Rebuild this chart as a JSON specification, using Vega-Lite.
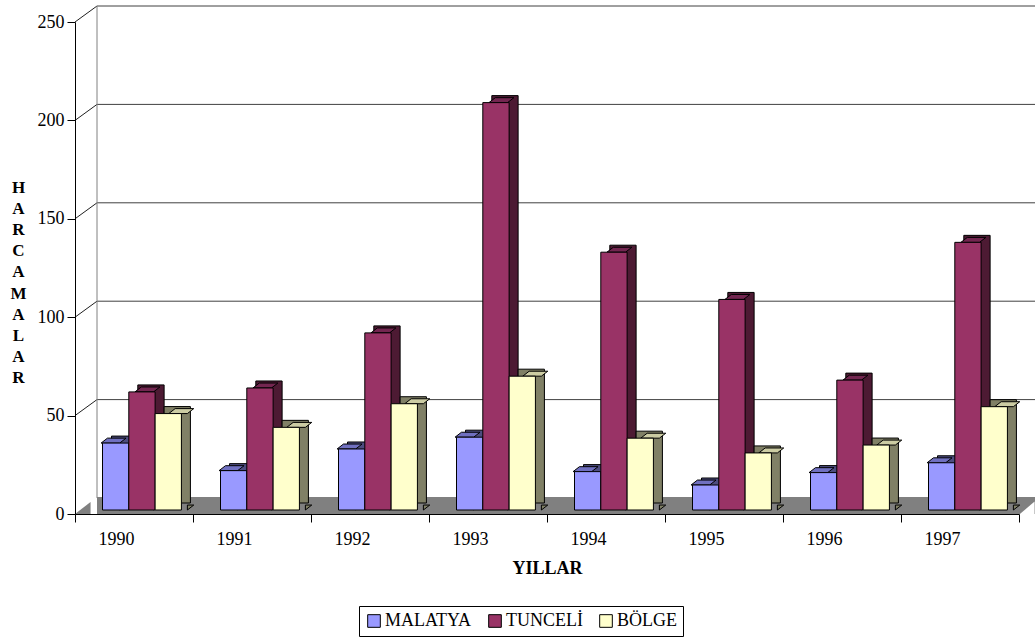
{
  "$schema": "https://vega.github.io/schema/vega-lite/v6.json",
  "width": 944,
  "height": 492,
  "autosize": "none",
  "padding": {"left": 75, "top": 22, "right": 16, "bottom": 123},
  "background": "white",
  "config": {"view": {"stroke": null}, "font": "Liberation Serif, Times New Roman, DejaVu Serif, serif"},
  "resolve": {"scale": {"xOffset": "independent"}},
  "datasets": {
    "bars": [
      {"year": "1990", "series": "MALATYA", "value": 34},
      {"year": "1990", "series": "TUNCELİ", "value": 60},
      {"year": "1990", "series": "BÖLGE", "value": 49},
      {"year": "1991", "series": "MALATYA", "value": 20},
      {"year": "1991", "series": "TUNCELİ", "value": 62},
      {"year": "1991", "series": "BÖLGE", "value": 42},
      {"year": "1992", "series": "MALATYA", "value": 31},
      {"year": "1992", "series": "TUNCELİ", "value": 90},
      {"year": "1992", "series": "BÖLGE", "value": 54},
      {"year": "1993", "series": "MALATYA", "value": 37},
      {"year": "1993", "series": "TUNCELİ", "value": 207},
      {"year": "1993", "series": "BÖLGE", "value": 68},
      {"year": "1994", "series": "MALATYA", "value": 19.5},
      {"year": "1994", "series": "TUNCELİ", "value": 131},
      {"year": "1994", "series": "BÖLGE", "value": 36.5},
      {"year": "1995", "series": "MALATYA", "value": 12.7},
      {"year": "1995", "series": "TUNCELİ", "value": 107},
      {"year": "1995", "series": "BÖLGE", "value": 29},
      {"year": "1996", "series": "MALATYA", "value": 19},
      {"year": "1996", "series": "TUNCELİ", "value": 66},
      {"year": "1996", "series": "BÖLGE", "value": 33},
      {"year": "1997", "series": "MALATYA", "value": 24},
      {"year": "1997", "series": "TUNCELİ", "value": 136},
      {"year": "1997", "series": "BÖLGE", "value": 52.5}
    ],
    "grid": [{"v": 50}, {"v": 100}, {"v": 150}, {"v": 200}, {"v": 250}]
  },
  "layer": [
    {
      "data": {"name": "grid"},
      "mark": {"type": "rule", "color": "#404040", "strokeWidth": 1, "xOffset": 22, "x2Offset": 22, "yOffset": -16},
      "encoding": {
        "x": {"datum": "1990", "type": "nominal", "bandPosition": 0},
        "x2": {"datum": "1997", "bandPosition": 1},
        "y": {"field": "v", "type": "quantitative"}
      }
    },
    {
      "data": {"name": "grid"},
      "mark": {"type": "rule", "color": "#202020", "strokeWidth": 1, "x2Offset": 22, "y2Offset": -16},
      "encoding": {
        "x": {"datum": "1990", "type": "nominal", "bandPosition": 0},
        "x2": {"datum": "1990", "bandPosition": 0},
        "y": {"field": "v", "type": "quantitative"},
        "y2": {"field": "v"}
      }
    },
    {
      "data": {"values": [{}]},
      "mark": {"type": "rule", "color": "#808080", "strokeWidth": 1, "xOffset": 22, "yOffset": -16, "y2Offset": -16},
      "encoding": {
        "x": {"datum": "1990", "type": "nominal", "bandPosition": 0},
        "y": {"datum": 0, "type": "quantitative"},
        "y2": {"datum": 250}
      }
    },
    {
      "data": {"values": [{}]},
      "mark": {"type": "rect", "color": "#808080", "xOffset": 22, "x2Offset": 22, "y2Offset": -17},
      "encoding": {
        "x": {"datum": "1990", "type": "nominal", "bandPosition": 0},
        "x2": {"datum": "1997", "bandPosition": 1},
        "y": {"datum": 0, "type": "quantitative"},
        "y2": {"datum": 0}
      }
    },
    {
      "data": {"values": [{}]},
      "mark": {"type": "point", "filled": true, "fill": "#808080", "opacity": 1, "strokeWidth": 0, "size": 968, "shape": "M 0 0 L 1 -0.773 L 1 0 Z"},
      "encoding": {
        "x": {"datum": "1990", "type": "nominal", "bandPosition": 0},
        "y": {"datum": 0, "type": "quantitative"}
      }
    },
    {
      "data": {"values": [{}]},
      "mark": {"type": "point", "filled": true, "fill": "white", "opacity": 1, "strokeWidth": 0, "size": 968, "shape": "M 0 0.05 L 1 0.05 L 1 -0.8 Z"},
      "encoding": {
        "x": {"datum": "1997", "type": "nominal", "bandPosition": 1},
        "y": {"datum": 0, "type": "quantitative"}
      }
    },
    {
      "data": {"name": "bars"},
      "mark": {"type": "bar", "stroke": "black", "strokeWidth": 1, "yOffset": -11, "y2Offset": -11},
      "encoding": {
        "x": {"field": "year", "type": "nominal"},
        "xOffset": {"field": "series", "type": "nominal", "scale": {"domain": ["MALATYA", "TUNCELİ", "BÖLGE"], "paddingOuter": 0.743, "paddingInner": 0, "align": 0.934}},
        "y": {"field": "value", "type": "quantitative"},
        "fill": {
          "condition": [
            {"test": "datum.series === 'MALATYA'", "value": "#4D4D80"},
            {"test": "datum.series === 'TUNCELİ'", "value": "#4D1A33"}
          ],
          "value": "#808066"
        }
      }
    },
    {
      "data": {"name": "bars"},
      "mark": {"type": "point", "filled": true, "opacity": 1, "stroke": "black", "strokeWidth": 1, "size": 981.25, "yOffset": -4, "shape": "M 0.5937 0 L 0.5937 -0.316 L 1 -0.316 Z"},
      "encoding": {
        "x": {"field": "year", "type": "nominal"},
        "xOffset": {"field": "series", "type": "nominal", "scale": {"domain": ["MALATYA", "TUNCELİ", "BÖLGE"], "paddingOuter": 0.743, "paddingInner": 0, "align": 0.7036}},
        "y": {"datum": 0, "type": "quantitative"},
        "fill": {
          "condition": [
            {"test": "datum.series === 'MALATYA'", "value": "#4D4D80"},
            {"test": "datum.series === 'TUNCELİ'", "value": "#4D1A33"}
          ],
          "value": "#808066"
        }
      }
    },
    {
      "data": {"name": "bars"},
      "mark": {"type": "point", "filled": true, "opacity": 1, "stroke": "black", "strokeWidth": 1, "size": 981.25, "yOffset": -4, "shape": "M -0.5937 0 L 0.5937 0 L 1 -0.316 L -0.1874 -0.316 Z"},
      "encoding": {
        "x": {"field": "year", "type": "nominal"},
        "xOffset": {"field": "series", "type": "nominal", "scale": {"domain": ["MALATYA", "TUNCELİ", "BÖLGE"], "paddingOuter": 0.743, "paddingInner": 0, "align": 0.7036}},
        "y": {"field": "value", "type": "quantitative"},
        "fill": {
          "condition": [
            {"test": "datum.series === 'MALATYA'", "value": "#7070C0"},
            {"test": "datum.series === 'TUNCELİ'", "value": "#732650"}
          ],
          "value": "#CCCCA3"
        }
      }
    },
    {
      "data": {"name": "bars"},
      "mark": {"type": "bar", "stroke": "black", "strokeWidth": 1, "yOffset": -4, "y2Offset": -4, "opacity": 1},
      "encoding": {
        "x": {
          "field": "year", "type": "nominal",
          "scale": {"domain": ["1990", "1991", "1992", "1993", "1994", "1995", "1996", "1997"], "paddingInner": 0, "paddingOuter": 0},
          "axis": {
            "title": "YILLAR", "titleFontSize": 18, "titleFontWeight": "bold", "titleColor": "black", "titlePadding": 11,
            "labelAngle": 0, "labelFontSize": 18, "labelColor": "black", "labelPadding": 17,
            "tickBand": "extent", "tickSize": 8, "tickColor": "black", "domainColor": "black", "grid": false, "zindex": 1
          }
        },
        "xOffset": {"field": "series", "type": "nominal", "scale": {"domain": ["MALATYA", "TUNCELİ", "BÖLGE"], "paddingOuter": 0.743, "paddingInner": 0, "align": 0.7036}},
        "y": {
          "field": "value", "type": "quantitative",
          "scale": {"domain": [0, 250], "nice": false},
          "axis": {
            "values": [0, 50, 100, 150, 200, 250],
            "title": ["H", "A", "R", "C", "A", "M", "A", "L", "A", "R"],
            "titleAngle": 0, "titleAlign": "center", "titleBaseline": "middle", "titleX": -57, "titleY": 165, "titleLineHeight": 21.2,
            "titleFontSize": 17, "titleFontWeight": "bold", "titleColor": "black",
            "labelFontSize": 18, "labelColor": "black", "labelPadding": 3,
            "tickSize": 8, "tickColor": "black", "domainColor": "black", "grid": false, "zindex": 1
          }
        },
        "color": {
          "field": "series", "type": "nominal",
          "scale": {"domain": ["MALATYA", "TUNCELİ", "BÖLGE"], "range": ["#9999FF", "#993366", "#FFFFCC"]},
          "legend": {
            "title": null, "orient": "none", "legendX": 284, "legendY": 584, "direction": "horizontal",
            "strokeColor": "black", "fillColor": "white", "padding": 6,
            "symbolType": "square", "symbolSize": 160, "symbolStrokeColor": "black", "symbolStrokeWidth": 1, "symbolOpacity": 1,
            "labelFontSize": 18, "labelColor": "black", "labelOffset": 2, "columnPadding": 14
          }
        }
      }
    }
  ]
}
